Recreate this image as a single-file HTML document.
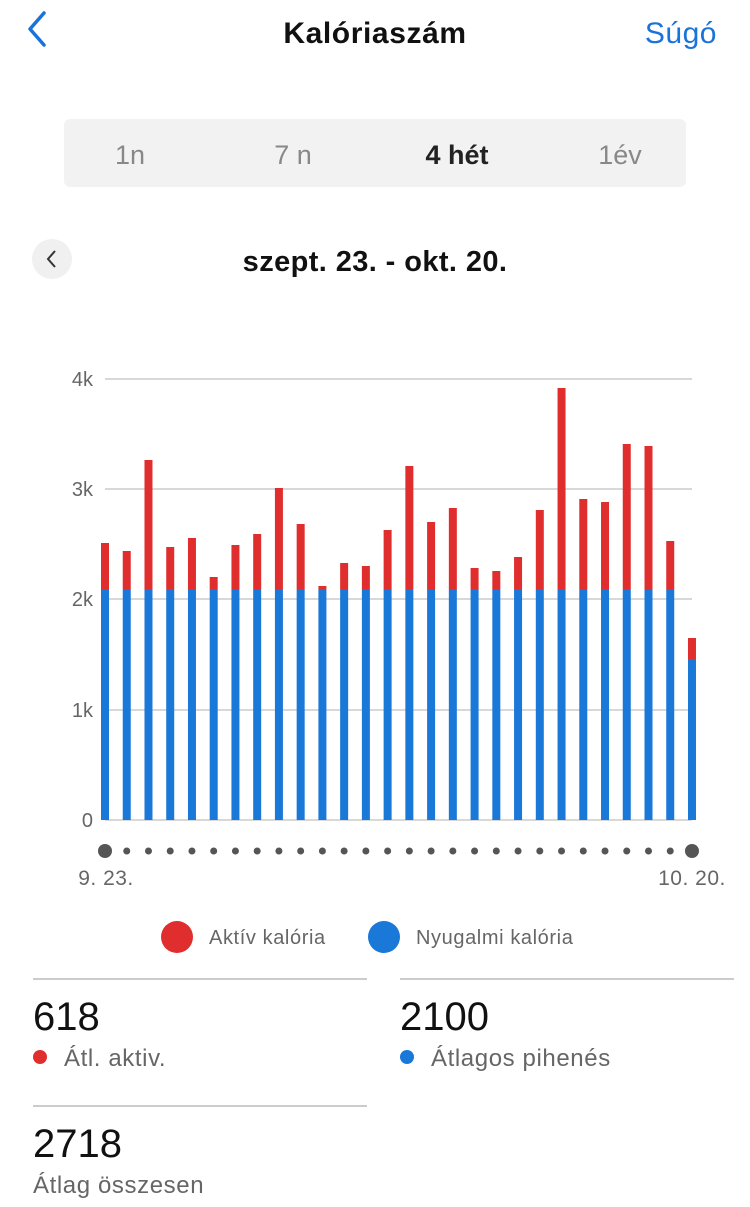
<!DOCTYPE html>
<html><head><meta charset="utf-8"><style>
body{margin:0;width:750px;height:1207px;background:#fff;font-family:"Liberation Sans",sans-serif;position:relative;overflow:hidden}
.a{position:absolute}
</style></head><body>
<svg class="a" style="left:0;top:0" width="750" height="1207">
<polyline points="44,13 30,29 44,45" fill="none" stroke="#1a73d9" stroke-width="3.5" stroke-linecap="round" stroke-linejoin="round"/>
<text x="375" y="43" text-anchor="middle" font-size="30" font-weight="bold" fill="#111" letter-spacing="0.6">Kalóriaszám</text>
<text x="717" y="43" text-anchor="end" font-size="30" fill="#1a73d9" letter-spacing="0.5">Súgó</text>
<rect x="64" y="119" width="622" height="68" rx="6" fill="#f2f2f2"/>
<text x="130" y="164" text-anchor="middle" font-size="27" fill="#888">1n</text>
<text x="293" y="164" text-anchor="middle" font-size="27" fill="#888">7 n</text>
<text x="457" y="164" text-anchor="middle" font-size="27" font-weight="bold" fill="#222">4 hét</text>
<text x="620" y="164" text-anchor="middle" font-size="27" fill="#888">1év</text>
<circle cx="52" cy="259" r="20" fill="#f0f0f0"/>
<polyline points="55,251 48,259 55,267" fill="none" stroke="#333" stroke-width="2"/>
<text x="375" y="271" text-anchor="middle" font-size="29" font-weight="bold" fill="#111" letter-spacing="0.4">szept. 23. - okt. 20.</text>
<g stroke="#ccc" stroke-width="1.5">
<line x1="105" y1="379" x2="692" y2="379"/><line x1="105" y1="489" x2="692" y2="489"/>
<line x1="105" y1="599" x2="692" y2="599"/><line x1="105" y1="710" x2="692" y2="710"/>
<line x1="105" y1="820" x2="692" y2="820"/></g>
<g font-size="20" fill="#666" text-anchor="end">
<text x="93" y="386">4k</text><text x="93" y="496">3k</text><text x="93" y="606">2k</text><text x="93" y="717">1k</text><text x="93" y="827">0</text></g>
<g id="bars"></g>
<text x="106" y="885" text-anchor="middle" font-size="21" fill="#666" letter-spacing="0.5">9. 23.</text>
<text x="692" y="885" text-anchor="middle" font-size="21" fill="#666" letter-spacing="0.5">10. 20.</text>
<circle cx="177" cy="937" r="16" fill="#e02e2e"/>
<text x="209" y="944" font-size="20" fill="#666" letter-spacing="0.6">Aktív kalória</text>
<circle cx="384" cy="937" r="16" fill="#1a78d8"/>
<text x="416" y="944" font-size="20" fill="#666" letter-spacing="0.6">Nyugalmi kalória</text>
<line x1="33" y1="979" x2="367" y2="979" stroke="#bbb" stroke-width="1.5"/>
<line x1="400" y1="979" x2="734" y2="979" stroke="#bbb" stroke-width="1.5"/>
<line x1="33" y1="1106" x2="367" y2="1106" stroke="#bbb" stroke-width="1.5"/>
<text x="33" y="1030" font-size="40" fill="#111">618</text>
<circle cx="40" cy="1057" r="7" fill="#e02e2e"/>
<text x="64" y="1066" font-size="24" fill="#666" letter-spacing="0.6">Átl. aktiv.</text>
<text x="400" y="1030" font-size="40" fill="#111">2100</text>
<circle cx="407" cy="1057" r="7" fill="#1a78d8"/>
<text x="431" y="1066" font-size="24" fill="#666" letter-spacing="0.6">Átlagos pihenés</text>
<text x="33" y="1157" font-size="40" fill="#111">2718</text>
<text x="33" y="1193" font-size="24" fill="#666" letter-spacing="0.6">Átlag összesen</text>
</svg>
<script>
var tops=[543,551,460,547,538,577,545,534,488,524,586,563,566,530,466,522,508,568,571,557,510,388,499,502,444,446,541,638];
var g=document.getElementById('bars'),s='';
for(var i=0;i<28;i++){var x=105+i*21.74;var bt=i==27?659:589;
s+='<rect x="'+(x-4)+'" y="'+tops[i]+'" width="8" height="'+(bt-tops[i])+'" fill="#e02e2e"/>';
s+='<rect x="'+(x-4)+'" y="'+bt+'" width="8" height="'+(820-bt)+'" fill="#1a78d8"/>';
var r=(i==0||i==27)?7:3.5;s+='<circle cx="'+x+'" cy="851" r="'+r+'" fill="#555"/>';}
g.innerHTML=s;
</script>
</body></html>
